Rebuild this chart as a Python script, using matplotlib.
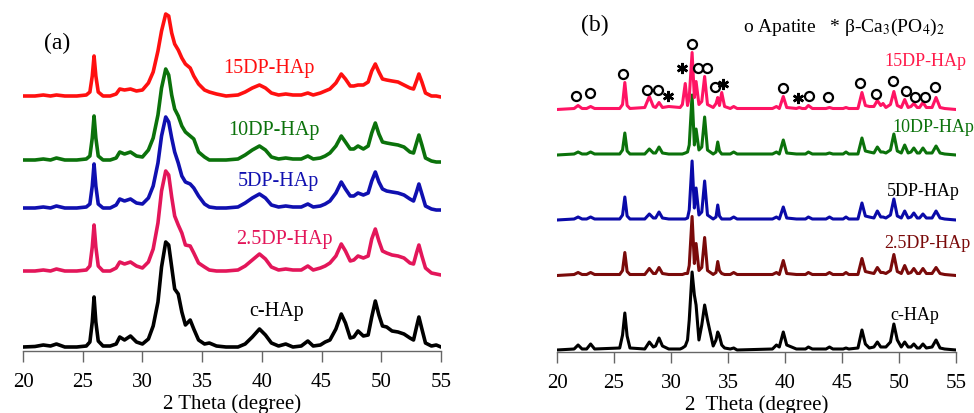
import matplotlib
matplotlib.use("Agg")
import matplotlib.pyplot as plt

plt.rcParams['font.family'] = ['Liberation Serif', 'DejaVu Serif']
plt.rcParams['mathtext.fontset'] = 'stix'

# ---------------- panel (a): broad patterns ----------------
theta_a = [20, 21, 21.7, 22.3, 22.8, 23.5, 24.5, 25.3, 25.6, 25.8,
           25.95, 26.1, 26.3, 26.7, 27.3, 27.8, 28.1, 28.5, 29.0, 29.5,
           30.0, 30.5, 30.9, 31.3, 31.6, 31.95, 32.2, 32.45, 32.7, 33.0,
           33.3, 33.6, 34.0, 34.3, 34.7, 35.2, 35.6, 36.2, 37.0, 38.0,
           38.6, 39.2, 39.8, 40.3, 40.8, 41.4, 42.0, 42.6, 43.3, 43.85,
           44.3, 44.9, 45.3, 45.7, 46.2, 46.65, 47.0, 47.4, 47.7, 48.05,
           48.5, 48.9, 49.2, 49.5, 49.8, 50.1, 50.45, 50.9, 51.4, 51.9,
           52.4, 52.7, 52.95, 53.15, 53.4, 53.7, 54.2, 54.6, 55]

a_chap = [0, 0.5, 2, 1, 3, 0, 0, 1, 5, 25,
          50, 25, 6, 1, 1, 3, 10, 7, 11, 5,
          3, 8, 21, 45, 80, 105, 102, 80, 58, 53,
          35, 22, 27, 18, 7, 3, 4, 1, 0, 0,
          3, 10, 18, 12, 4, 1, 3, 0, 1, 6,
          1, 2, 5, 7, 18, 33, 24, 9, 10, 16,
          11, 12, 30, 46, 32, 21, 20, 16, 15, 13,
          9, 7, 20, 30, 18, 4, 1, 2, 0]
a_25dp = [0, 0, 1, 0, 2, 0, 0, 1, 5, 24,
          46, 24, 5, 0, 0, 3, 9, 7, 9, 5,
          3, 9, 22, 48, 80, 100, 96, 74, 55, 46,
          38, 26, 25, 18, 8, 4, 1, 0, 0, 1,
          5, 11, 17, 12, 4, 1, 2, 1, 1, 5,
          1, 3, 5, 8, 15, 27, 20, 10, 11, 15,
          13, 15, 32, 42, 30, 20, 18, 16, 15, 13,
          8, 7, 18, 26, 15, 3, -2, -3, -4]
a_5dp = [0, 0, 1, 0, 2, 0, 0, 1, 4, 22,
         44, 22, 4, 0, 0, 3, 9, 7, 9, 5,
         4, 10, 22, 45, 72, 91, 86, 70, 56, 45,
         32, 26, 24, 20, 12, 4, 1, 0, 0, 1,
         5, 10, 14, 10, 3, 1, 2, 1, 1, 4,
         1, 2, 4, 7, 15, 26, 19, 12, 12, 15,
         13, 15, 27, 36, 26, 19, 17, 16, 15, 13,
         9, 7, 16, 24, 14, 2, -1, -2, -2]
a_10dp = [0, 0, 1, 0, 2, 0, 0, 1, 4, 22,
          44, 22, 4, 0, 0, 2, 8, 6, 8, 4,
          3, 10, 22, 45, 72, 91, 85, 65, 51, 44,
          34, 28, 24, 21, 8, 3, 0, 0, 0, 1,
          5, 10, 14, 10, 3, 1, 2, 1, 1, 4,
          1, 2, 4, 7, 14, 24, 18, 11, 11, 14,
          11, 14, 27, 37, 26, 18, 17, 16, 15, 13,
          8, 7, 17, 25, 15, 2, -1, -2, -2]
a_15dp = [0, 0, 1, 0, 1, 0, 0, 1, 4, 20,
          40, 20, 4, 0, 0, 2, 7, 6, 7, 5,
          6, 13, 24, 45, 65, 82, 80, 63, 52, 46,
          38, 32, 28, 20, 12, 6, 4, 2, 0, 1,
          4, 8, 11, 8, 3, 1, 2, 1, 1, 3,
          1, 3, 5, 7, 13, 22, 17, 10, 10, 11,
          11, 14, 25, 32, 24, 17, 16, 15, 14, 11,
          8, 7, 15, 22, 14, 3, 0, 0, -1]

# ---------------- panel (b): sharp patterns ----------------
theta_b = [20, 21.5, 21.85, 22.2, 22.6, 22.95, 23.3,
           25.5, 25.75, 25.95, 26.15, 26.4,
           27.7, 28.1, 28.45, 28.65, 28.95, 29.25, 29.8,
           30.8, 31.0, 31.25, 31.45, 31.6, 31.85, 32.05, 32.2, 32.45, 32.7, 32.95, 33.2,
           33.7, 33.95, 34.1, 34.25, 34.45, 34.7, 35.2, 35.5, 35.8,
           38.9, 39.25, 39.5, 39.85, 40.15,
           41.0, 41.25, 41.5, 41.8, 42.05, 42.4,
           43.6, 43.9, 44.2, 45.1, 45.35, 45.6,
           46.4, 46.75, 47.05, 47.4, 47.8, 48.1, 48.4, 48.6, 48.85,
           49.25, 49.55, 49.85, 50.2, 50.5, 50.8, 51.05, 51.3, 51.6, 51.8, 52.1, 52.4,
           52.9, 53.25, 53.6, 54.0, 55]

b_chap = [0, 1, 5, 1, 1, 6, 1,
          2, 15, 37, 14, 2,
          1, 8, 3, 4, 12, 4, 1,
          1, 2, 4, 10, 30, 78, 55, 45, 10, 25, 45, 30,
          4, 10, 18, 14, 5, 2, 1, 2, 0,
          1, 5, 3, 18, 5,
          1, 1, 1, 1, 3, 1,
          1, 3, 1, 1, 2, 1,
          2, 20, 6, 2, 3, 8, 3, 3, 3,
          8, 26, 10, 3, 8, 3, 3, 6, 2, 2, 6, 2,
          3, 10, 2, 1, 0]
b_25dp = [0, 1, 3, 1, 1, 3, 1,
          1, 5, 23, 4, 1,
          1, 7, 2, 2, 8, 2, 1,
          1, 1, 2, 2, 10, 59, 12, 32, 5, 8, 38, 5,
          1, 3, 14, 5, 2, 1, 1, 3, 1,
          1, 3, 1, 15, 2,
          1, 1, 1, 1, 3, 1,
          1, 3, 1, 1, 3, 1,
          1, 17, 4, 3, 2, 8, 3, 3, 2,
          5, 21, 4, 2, 10, 2, 3, 7, 2, 2, 7, 2,
          2, 8, 2, 1, 0]
b_5dp = [0, 1, 3, 1, 1, 3, 1,
         1, 5, 23, 4, 1,
         1, 6, 2, 2, 8, 2, 1,
         1, 1, 1, 2, 10, 59, 12, 32, 5, 8, 39, 5,
         1, 3, 15, 4, 1, 1, 1, 3, 1,
         1, 3, 1, 13, 2,
         1, 1, 1, 1, 3, 1,
         1, 3, 1, 1, 3, 1,
         1, 17, 4, 3, 2, 9, 3, 3, 2,
         5, 21, 4, 2, 9, 2, 3, 7, 2, 2, 6, 2,
         2, 9, 2, 1, 0]
b_10dp = [0, 1, 3, 1, 1, 3, 1,
          1, 5, 22, 4, 1,
          1, 6, 2, 2, 8, 2, 1,
          1, 1, 2, 3, 10, 60, 10, 26, 5, 8, 38, 5,
          1, 3, 13, 4, 1, 1, 1, 3, 1,
          1, 3, 1, 15, 2,
          1, 1, 1, 1, 3, 1,
          1, 2, 1, 1, 3, 1,
          1, 17, 4, 3, 2, 8, 3, 3, 2,
          5, 21, 4, 2, 10, 2, 3, 7, 2, 2, 7, 2,
          2, 9, 2, 1, 0]
b_15dp = [0, 1, 4, 1, 1, 3, 1,
          1, 5, 27, 4, 1,
          2, 13, 3, 2, 7, 2, 3,
          2, 5, 26, 4, 12, 57, 12, 28, 5, 8, 33, 5,
          2, 6, 12, 4, 17, 3, 1, 3, 1,
          1, 3, 1, 13, 2,
          1, 2, 1, 1, 4, 1,
          1, 2, 1, 1, 2, 1,
          1, 17, 4, 3, 3, 9, 4, 6, 2,
          5, 18, 4, 2, 10, 2, 3, 6, 2, 2, 7, 2,
          2, 12, 2, 1, 0]

# phase markers on the 15DP-HAp pattern
apatite_x = [21.67, 22.9, 25.76, 27.87, 28.9, 31.8, 32.34, 33.2, 33.9, 39.8,
             42.13, 43.8, 46.58, 47.98, 49.44, 50.59, 51.4, 52.28, 53.16]
apatite_y = [256, 259, 278, 262, 262, 308, 284, 284, 265, 264,
             256, 255, 269, 258, 271, 261, 255, 255, 265]
tcp_x = [29.77, 30.94, 34.6, 41.1]
tcp_y = [256, 284, 268, 254]

W, H = 974, 414
fig = plt.figure(figsize=(W / 100, H / 100), dpi=100)
ax1 = fig.add_axes([23 / W, 62 / H, (441 - 23) / W, (409 - 62) / H])
ax2 = fig.add_axes([557 / W, 61 / H, (956 - 557) / W, (409 - 61) / H])

# panel (a)
series_a = [(a_chap, 4, 'black'), (a_25dp, 80, '#e3165a'), (a_5dp, 143, '#1010b0'),
            (a_10dp, 191, '#0b720b'), (a_15dp, 255, '#ff1010')]
for ys, off, c in series_a:
    ax1.plot(theta_a, [v + off for v in ys], color=c, lw=2.6,
             solid_joinstyle='round', solid_capstyle='round')

ax1.text(22.85, 309, '(a)', fontsize=17, ha='center', va='center')
ax1.text(40.6, 283, '15DP-HAp', color='#ff1010', fontsize=14.5, ha='center', va='center')
ax1.text(41.02, 222, '10DP-HAp', color='#0b720b', fontsize=14.5, ha='center', va='center')
ax1.text(41.35, 170, '5DP-HAp', color='#1010b0', fontsize=14.5, ha='center', va='center')
ax1.text(41.85, 112, '2.5DP-HAp', color='#e3165a', fontsize=14.5, ha='center', va='center')
ax1.text(41.27, 40, 'c-HAp', color='black', fontsize=14.5, ha='center', va='center')
ax1.set_ylim(0, 347)

# panel (b)
series_b = [(b_chap, 2, 'black'), (b_25dp, 76.5, '#7a0a0a'), (b_5dp, 132, '#0a0aa8'),
            (b_10dp, 197, '#0b720b'), (b_15dp, 242.5, '#ff1464')]
for ys, off, c in series_b:
    ax2.plot(theta_b, [v + off for v in ys], color=c, lw=2.2,
             solid_joinstyle='round', solid_capstyle='round')

ax2.plot(apatite_x, apatite_y, 'o', mfc='none', mec='black', ms=6.5, mew=1.6)
ax2.plot(tcp_x, tcp_y, ls='none', marker=(6, 2, 0), color='black', ms=8, mew=1.8)

ax2.text(23.33, 328, '(b)', fontsize=17, ha='center', va='center')
ax2.text(36.29, 326, r'o Apatite   * β-Ca$_3$(PO$_4$)$_2$', fontsize=14, ha='left', va='center')
ax2.text(48.68, 291, '15DP-HAp', color='#ff1a4a', fontsize=13, ha='left', va='center')
ax2.text(49.39, 225, '10DP-HAp', color='#0b720b', fontsize=13, ha='left', va='center')
ax2.text(48.92, 161, '5DP-HAp', color='black', fontsize=13, ha='left', va='center')
ax2.text(48.68, 109, '2.5DP-HAp', color='#7a0a0a', fontsize=13, ha='left', va='center')
ax2.text(49.2, 37, 'c-HAp', color='black', fontsize=13, ha='left', va='center')
ax2.set_ylim(0, 348)

for ax, lab in [(ax1, '2 Theta (degree)'), (ax2, '2  Theta (degree)')]:
    ax.set_xlim(20, 55)
    ax.set_xticks([20, 25, 30, 35, 40, 45, 50, 55])
    ax.set_yticks([])
    for s in ['left', 'top', 'right']:
        ax.spines[s].set_visible(False)
    ax.spines['bottom'].set_color('#666666')
    ax.spines['bottom'].set_linewidth(1)
    ax.tick_params(axis='x', direction='out', length=8, width=1, color='#666666',
                   labelsize=15, pad=7)
    ax.set_xlabel(lab, fontsize=15, labelpad=2)
    ax.patch.set_visible(False)

fig.savefig('out.png', dpi=100)
